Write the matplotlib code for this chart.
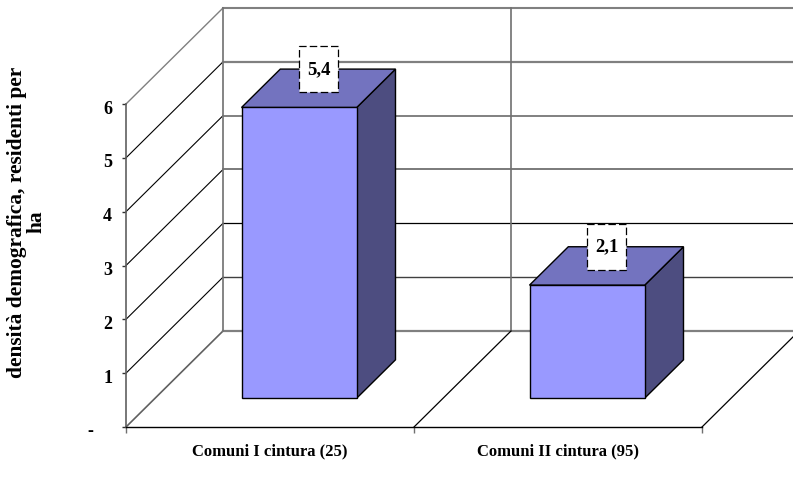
import matplotlib
matplotlib.use('Agg')
import matplotlib.pyplot as plt
from matplotlib.patches import Polygon, Rectangle
from matplotlib.transforms import ScaledTranslation

categories = ['Comuni I cintura (25)', 'Comuni II cintura (95)']
densita = [5.4, 2.1]
densita_labels = ['5,4', '2,1']
y_ticks = [0, 1, 2, 3, 4, 5, 6]
y_tick_labels = ['-    ', '1', '2', '3', '4', '5', '6']
y_label = 'densità demografica, residenti per\nha'

# oblique projection: one unit of depth shifts this much in data units
DEPTH_X = 97 / 288
DEPTH_Y = 96 / 53.83

FRONT = '#9999FF'
TOP = '#7373BF'
SIDE = '#4D4D80'


def proj(x, y, d):
    return (x + d * DEPTH_X, y + d * DEPTH_Y)


plt.rcParams['font.family'] = ['Liberation Serif', 'DejaVu Serif']
plt.rcParams['font.weight'] = 'bold'

W, H = 793, 480
fig = plt.figure(figsize=(W / 100, H / 100), dpi=100)
ax = fig.add_axes([126 / W, 1 - 427 / H, 576 / W, 323 / H])
ax.set_xlim(0, 2)
ax.set_ylim(0, 6)

# walls and floor
back_styles = [('#808080', 1.6), ('#404040', 1.0), ('#000000', 0.9), ('#707070', 1.3),
               ('#808080', 1.4), ('#808080', 1.6), ('#808080', 1.5)]
side_styles = [('#606060', 1.2), ('#000000', 0.8), ('#000000', 0.8), ('#000000', 0.8),
               ('#000000', 0.8), ('#000000', 0.8), ('#808080', 1.0)]
for lev in y_ticks:
    p0 = proj(0, lev, 0)
    p1 = proj(0, lev, 1)
    p2 = proj(2, lev, 1)
    ax.plot([p0[0], p1[0]], [p0[1], p1[1]], color=side_styles[lev][0],
            lw=side_styles[lev][1], clip_on=False, zorder=1)
    ax.plot([p1[0], p2[0]], [p1[1], p2[1]], color=back_styles[lev][0],
            lw=back_styles[lev][1], clip_on=False, zorder=1)

for x in [0, 1]:
    p0 = proj(x, 0, 1)
    p1 = proj(x, 6, 1)
    ax.plot([p0[0], p1[0]], [p0[1], p1[1]], color='#707070', lw=1.2, clip_on=False, zorder=1)

for x in [1, 2]:
    p0 = proj(x, 0, 0)
    p1 = proj(x, 0, 1)
    ax.plot([p0[0], p1[0]], [p0[1], p1[1]], color='black', lw=0.9, clip_on=False, zorder=1)

# bars
bar_w = 0.4
d0, d1 = 0.3, 0.7
for i, val in enumerate(densita):
    xl = i + 0.5 - bar_w / 2
    xr = i + 0.5 + bar_w / 2
    faces = [
        ([proj(xr, 0, d0), proj(xr, 0, d1), proj(xr, val, d1), proj(xr, val, d0)], SIDE),
        ([proj(xl, val, d0), proj(xr, val, d0), proj(xr, val, d1), proj(xl, val, d1)], TOP),
        ([proj(xl, 0, d0), proj(xr, 0, d0), proj(xr, val, d0), proj(xl, val, d0)], FRONT),
    ]
    for pts, col in faces:
        ax.add_patch(Polygon(pts, closed=True, facecolor=col, edgecolor='black',
                             lw=1.0, joinstyle='miter', clip_on=False, zorder=3))

    # value label sits over the middle of the bar top
    cx, cy = proj(i + 0.5, val, (d0 + d1) / 2)
    cy += 0.35
    lw_box = 39 / 288
    lh_box = 46 / 53.83
    ax.add_patch(Rectangle((cx - lw_box / 2, cy - lh_box / 2), lw_box, lh_box,
                           facecolor='white', edgecolor='black', lw=0.9,
                           linestyle=(0, (6, 2.5)), clip_on=False, zorder=4))
    ax.text(cx, cy, densita_labels[i], ha='center', va='center', fontsize=13.5,
            fontweight='bold', zorder=5)

# axes
for s in ['top', 'right']:
    ax.spines[s].set_visible(False)
ax.spines['left'].set_color('#606060')
ax.spines['left'].set_linewidth(1.2)
ax.spines['bottom'].set_color('black')
ax.spines['bottom'].set_linewidth(1.0)
ax.spines['left'].set_zorder(2)
ax.spines['bottom'].set_zorder(2)
ax.patch.set_alpha(0)

ax.set_yticks(y_ticks)
ax.set_yticklabels(y_tick_labels, fontsize=13, fontweight='bold')
ax.tick_params(axis='y', length=3, width=1, color='#303030', pad=7)
# digits hang slightly below their tick
shift = ScaledTranslation(0, -3 / 100, fig.dpi_scale_trans)
for t in ax.get_yticklabels():
    t.set_transform(t.get_transform() + shift)

ax.set_xticks([0, 1, 2])
ax.set_xticklabels([])
ax.tick_params(axis='x', length=4, width=1, color='#707070')
ax.set_xticks([0.5, 1.5], minor=True)
ax.set_xticklabels(categories, minor=True, fontsize=12, fontweight='bold')
ax.tick_params(axis='x', which='minor', length=0, pad=12)

fig.text(27 / W, 1 - 222 / H, y_label, rotation=90, ha='center', va='center',
         multialignment='center', fontsize=15.4, fontweight='bold', linespacing=1.0)

fig.savefig('out.png', dpi=100)
